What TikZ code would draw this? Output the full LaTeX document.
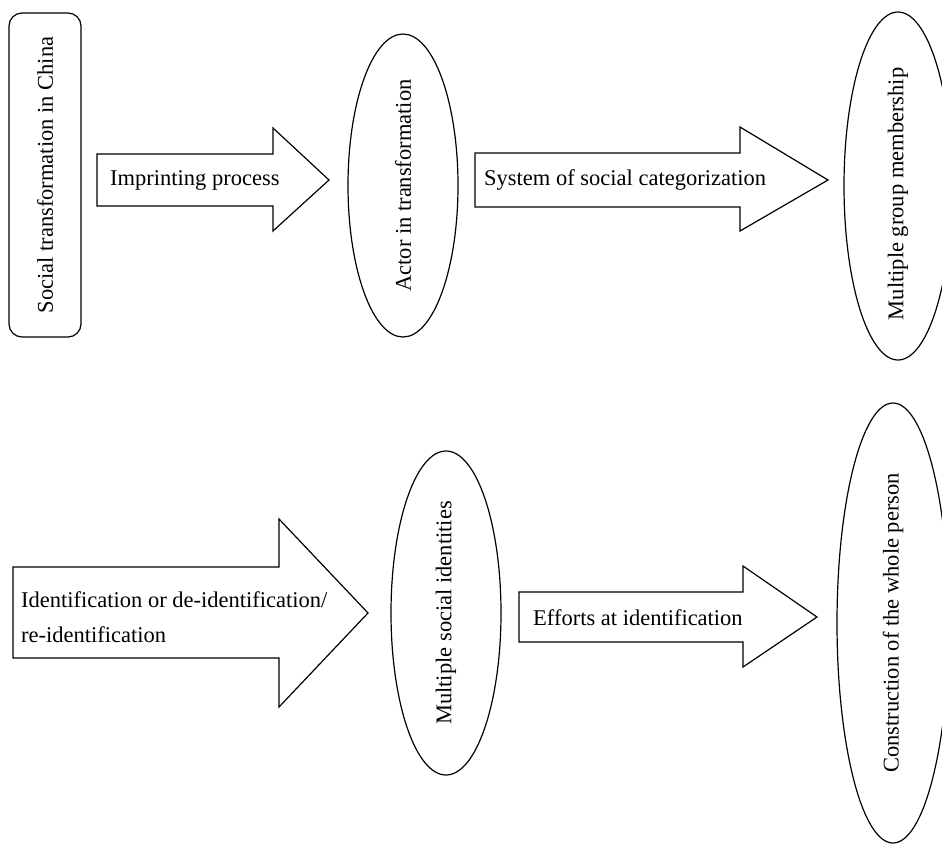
\documentclass[tikz,border=0pt]{standalone}
\usepackage{fontspec}
\setmainfont{Liberation Serif}
\usetikzlibrary{shapes.geometric}
\tikzset{
  txt/.style={font=\fontsize{22.5}{35}\selectfont, inner sep=0pt},
  vtxt/.style={txt, rotate=90},
  oval/.style={draw, ellipse, line width=1.2pt, inner sep=0pt, rotate=90},
  roundbox/.style={draw, rectangle, rounded corners=13pt, line width=1.2pt, inner sep=0pt, rotate=90, font=\fontsize{22.5}{27}\selectfont},
  blockarrow/.style={draw, line width=1.2pt, line join=miter},
}
\begin{document}
\begin{tikzpicture}[x=1pt,y=-1pt]
\clip (0,0) rectangle (942,844);
% top row
\node[roundbox, minimum width=324pt, minimum height=72pt] (china) at (45,175) {Social transformation in China};
\node[oval, minimum width=303pt, minimum height=110pt] (actor) at (403,185.5) {};
\node[vtxt] (actortxt) at (actor.center) {Actor in transformation};
\node[oval, minimum width=348pt, minimum height=108pt] (group) at (898,186) {};
\node[vtxt] (grouptxt) at (898,194) {Multiple group membership};
% bottom row
\node[oval, minimum width=324pt, minimum height=110pt] (ident) at (446,613) {};
\node[vtxt] (identtxt) at (ident.center) {Multiple social identities};
\node[oval, minimum width=440pt, minimum height=112pt] (whole) at (893,623) {};
\node[vtxt] (wholetxt) at (whole.center) {Construction of the whole person};
% block arrows
\draw[blockarrow] (97,154) -- (273,154) -- (273,128) -- (329,180) -- (273,231) -- (273,206) -- (97,206) -- cycle;
\node[txt, anchor=base west] (imp) at (110,185) {Imprinting process};
\draw[blockarrow] (475,153) -- (740,153) -- (740,127) -- (828,180) -- (740,231) -- (740,207) -- (475,207) -- cycle;
\node[txt, anchor=base west] (sys) at (484,185) {System of social categorization};
\draw[blockarrow] (13,567) -- (279,567) -- (279,519) -- (368,613) -- (279,707) -- (279,658) -- (13,658) -- cycle;
\node[txt, anchor=base west] (idl1) at (21,607) {Identification or de-identification/};
\node[txt, anchor=base west] (idl2) at (21,642) {re-identification};
\draw[blockarrow] (519,592) -- (743,592) -- (743,566) -- (817,617) -- (743,667) -- (743,642) -- (519,642) -- cycle;
\node[txt, anchor=base west] (eff) at (533,625) {Efforts at identification};
\end{tikzpicture}
\end{document}
